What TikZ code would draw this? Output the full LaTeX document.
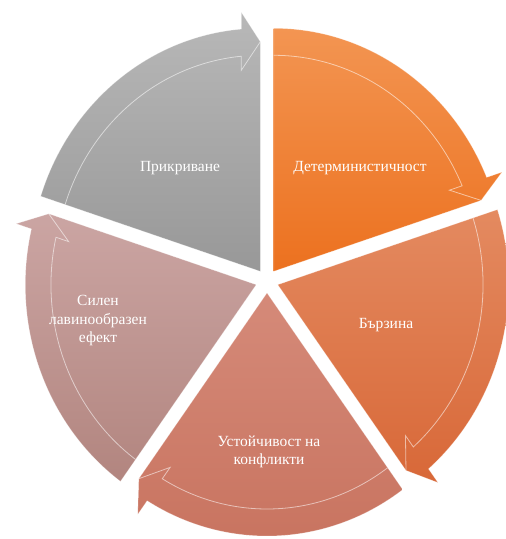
\documentclass[tikz,border=0pt]{standalone}
\usepackage{fontspec}
\setmainfont{Liberation Serif}
\usetikzlibrary{calc}
\begin{document}
\begin{tikzpicture}[x=1pt,y=1pt,
  segtext/.style={text=white, font=\fontsize{15.5}{18.5}\selectfont, align=center, inner sep=0pt},
  bevel/.style={draw=white, draw opacity=0.55, line width=0.8pt},
  rim/.style={draw=white, draw opacity=0.3, line width=0.6pt}]
\useasboundingbox (0,0) rectangle (506,-539);
% outer radius 243, arrow band 27 wide, arrowhead 20 deep
\begin{scope}[shift={(267,-281)}, xscale=0.95]
\foreach \a/\tc/\bc/\nm in {90/F39552/EC711F/det, 18/E48A60/D86838/brz, -54/D58A79/C8735F/ust, -126/CBA5A3/B2857F/sil, 162/B8B8B8/989898/pri} {
  \pgfmathsetmacro\b{\a-72}
  \pgfmathsetmacro\m{\a-36}
  \pgfmathsetmacro\da{\b+asin(20/243)}
  \pgfmathsetmacro\db{\b+asin(20/216)}
  \definecolor{tc}{HTML}{\tc}
  \definecolor{bc}{HTML}{\bc}
  \begin{scope}[shift={(\m:12)}]
    \coordinate (\nm-o) at (0,0);
    \coordinate (\nm-tip) at (\b:229.5);
    \coordinate (\nm-out) at ($(\b:259)+(\b+90:20)$);
    \coordinate (\nm-in) at ($(\b:201)+(\b+90:20)$);
    \shade[top color=tc, bottom color=bc]
      (\nm-o) -- (\a:243) arc[start angle=\a, end angle=\da, radius=243]
      -- (\nm-out) -- (\nm-tip) -- cycle;
    \draw[rim]
      (\nm-o) -- (\a:243) arc[start angle=\a, end angle=\da, radius=243]
      -- (\nm-out) -- (\nm-tip) -- cycle;
    \draw[bevel] (\a:216) arc[start angle=\a, end angle=\db, radius=216]
      -- (\nm-in) -- (\nm-tip);
  \end{scope}
}
\end{scope}
\node[segtext] (tdet) at (360,-168) {Детерминистичност};
\node[segtext] (tbrz) at (386,-325) {Бързина};
\node[segtext] (tust) at (269,-452) {Устойчивост на\\конфликти};
\node[segtext] (tsil) at (98,-321) {Силен\\лавинообразен\\ефект};
\node[segtext] (tpri) at (180,-168) {Прикриване};
\end{tikzpicture}
\end{document}
